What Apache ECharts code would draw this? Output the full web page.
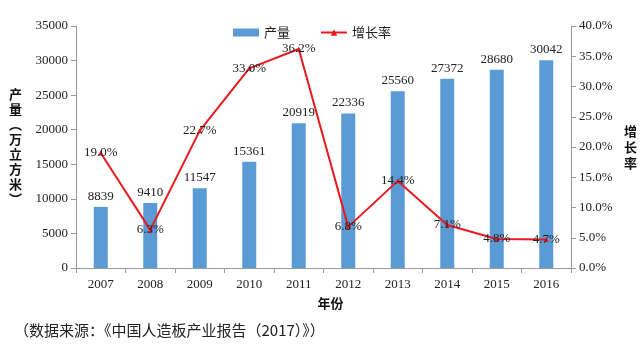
<!DOCTYPE html>
<html>
<head>
<meta charset="utf-8">
<script src="https://cdn.jsdelivr.net/npm/echarts@6/dist/echarts.min.js"></script>
<style>
  html, body { margin: 0; padding: 0; background: #fff; }
  #chart { width: 640px; height: 352px; }
</style>
</head>
<body>
<div id="chart"></div>
<script>
var years = ['2007', '2008', '2009', '2010', '2011', '2012', '2013', '2014', '2015', '2016']
var output = [8839, 9410, 11547, 15361, 20919, 22336, 25560, 27372, 28680, 30042]
var growth = [19.0, 6.3, 22.7, 33.0, 36.2, 6.8, 14.4, 7.1, 4.8, 4.7]

var serif = '"Liberation Serif", "Times New Roman", serif'
var cjk = '"Noto Sans CJK SC", sans-serif'

var myChart = echarts.init(document.getElementById('chart'))

var option = {
  animation: false,
  textStyle: { fontFamily: serif, color: '#333' },
  legend: {
    top: 21,
    left: 228,
    itemGap: 30,
    itemWidth: 26,
    itemHeight: 8,
    textStyle: { fontFamily: cjk, fontSize: 13, color: '#222' },
    data: [
      { name: '产量', icon: 'rect' },
      { name: '增长率' }
    ]
  },
  graphic: [
    {
      type: 'text',
      left: 14,
      top: 323,
      style: {
        text: '（数据来源：《中国人造板产业报告（2017）》）',
        font: '15px ' + cjk,
        fill: '#222'
      }
    }
  ],
  grid: { left: 76, right: 69, top: 26, bottom: 84 },
  xAxis: {
    type: 'category',
    data: years,
    name: '年份',
    nameLocation: 'middle',
    nameGap: 29,
    nameTextStyle: { fontFamily: cjk, fontWeight: 'bold', fontSize: 13, color: '#111', padding: [0, 0, 0, 14] },
    axisLine: { lineStyle: { color: '#999' } },
    axisTick: { show: true, alignWithLabel: false, lineStyle: { color: '#999' } },
    axisLabel: { fontSize: 13, color: '#222', margin: 10 }
  },
  yAxis: [
    {
      type: 'value',
      min: 0,
      max: 35000,
      interval: 5000,
      name: '产\n量\n︵\n万\n立\n方\n米\n︶',
      nameLocation: 'middle',
      nameRotate: 0,
      nameGap: 54,
      nameTextStyle: { fontFamily: cjk, fontWeight: 'bold', fontSize: 13, color: '#111', lineHeight: 15 },
      axisLine: { show: true, lineStyle: { color: '#999' } },
      axisTick: { show: true, lineStyle: { color: '#999' } },
      splitLine: { show: false },
      axisLabel: {
        fontSize: 13,
        color: '#222',
        margin: 8,
        formatter: function (v) { return String(v) }
      }
    },
    {
      type: 'value',
      min: 0,
      max: 40,
      interval: 5,
      name: '增\n长\n率',
      nameLocation: 'middle',
      nameRotate: 0,
      nameGap: 53,
      nameTextStyle: { fontFamily: cjk, fontWeight: 'bold', fontSize: 13, color: '#111', lineHeight: 16 },
      axisLine: { show: true, lineStyle: { color: '#999' } },
      axisTick: { show: true, lineStyle: { color: '#999' } },
      splitLine: { show: false },
      axisLabel: {
        fontSize: 13,
        color: '#222',
        margin: 8,
        formatter: function (v) { return v.toFixed(1) + '%' }
      }
    }
  ],
  series: [
    {
      name: '产量',
      type: 'bar',
      data: output,
      barWidth: 14,
      itemStyle: { color: '#5B9BD5' },
      label: {
        show: true,
        position: 'top',
        distance: 4,
        fontFamily: serif,
        fontSize: 13,
        color: '#222'
      }
    },
    {
      name: '增长率',
      type: 'line',
      yAxisIndex: 1,
      data: growth,
      symbol: 'triangle',
      symbolSize: 5,
      lineStyle: { color: '#E8191F', width: 2 },
      itemStyle: { color: '#E8191F' },
      label: {
        show: true,
        position: 'inside',
        fontFamily: serif,
        fontSize: 13,
        color: '#222',
        formatter: function (p) { return p.value.toFixed(1) + '%' }
      }
    }
  ]
}

myChart.setOption(option, true)
</script>
</body>
</html>
